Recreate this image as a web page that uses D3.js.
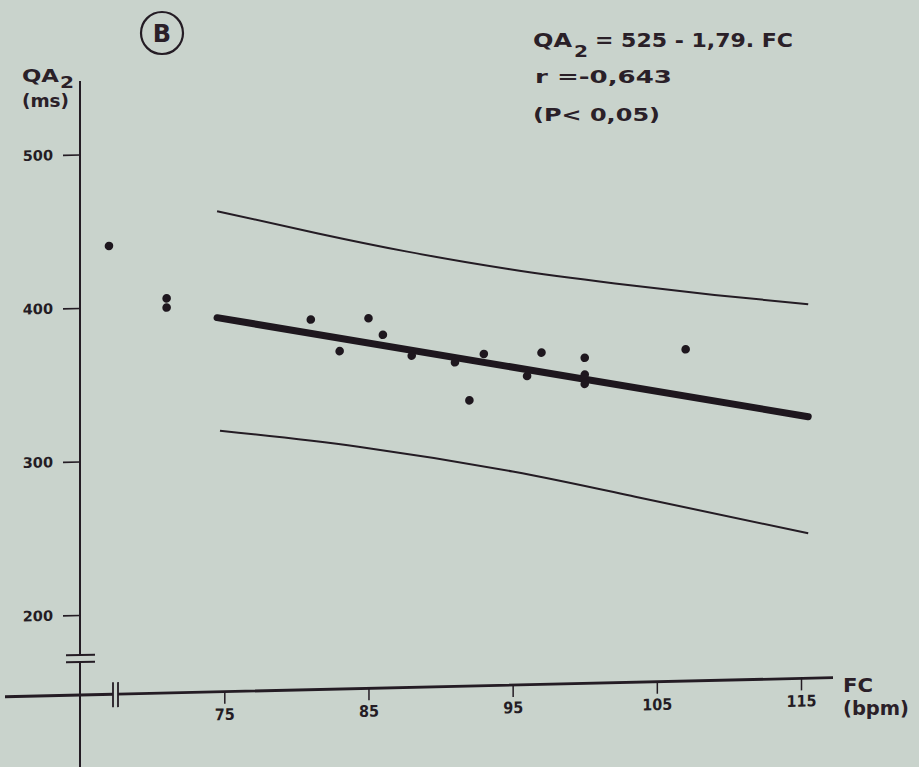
<!DOCTYPE html>
<html>
<head>
<meta charset="utf-8">
<script src="https://cdn.jsdelivr.net/npm/d3@7"></script>
<style>
  html, body { margin: 0; padding: 0; background: #c9d3cc; }
  svg { display: block; }
  .num { font-family: "DejaVu Sans", sans-serif; font-weight: 700; fill: #241c24; }
  .lab { font-family: "DejaVu Sans", sans-serif; font-weight: 700; fill: #2a2028; }
</style>
</head>
<body>
<div id="chart"></div>
<script>
// scatter: heart rate (FC, bpm) vs QA2 (ms)
const fcValues = [67, 71, 71, 81, 83, 85, 86, 88, 91, 92, 93, 96, 97, 100, 100, 100, 107];
const qaValues = [440, 405, 399, 389, 368, 389, 378, 364, 359, 334, 364, 349, 364, 360, 349, 343, 364];

// regression QA2 = 525 - 1,79 . FC, drawn over this FC span
const regIntercept = 525;
const regSlope = -1.79;
const regFc = [74.5, 115.5];

// confidence band lines
const upperFc = [74.5, 81.5, 87.6, 94.7, 102.1, 109, 115.5];
const upperQa = [461, 445, 432, 419, 408, 399, 391.5];
const lowerFc = [74.7, 84.3, 95, 103.5, 115.5];
const lowerQa = [318, 305.5, 287, 268.7, 242.3];

const xTicks = [75, 85, 95, 105, 115];
const yTicks = [200, 300, 400, 500];

const width = 919;
const height = 767;
const ink = '#241c24';

// the photographed page is slightly sheared: horizontals rise to the right
const axisX = 80;
const axisY = 695;
const shear = -1.32;

const x = d3.scaleLinear().domain([75, 115]).range([224.3, 801]);
const y = d3.scaleLinear().domain([200, 500]).range([615, 154.5]);

const svg = d3.select('#chart')
	.append('svg')
	.attr('width', width)
	.attr('height', height);

const plot = svg.append('g')
	.attr('transform', `translate(${axisX},0) skewY(${shear}) translate(${-axisX},0)`);

// y axis with break
plot.append('path')
	.attr('d', `M${axisX},81V655M${axisX},662V${height}`)
	.attr('stroke', ink)
	.attr('stroke-width', 2)
	.attr('fill', 'none');

plot.append('path')
	.attr('d', 'M66,655H95M66,662H95')
	.attr('stroke', ink)
	.attr('stroke-width', 2);

const yAxis = plot.append('g')
	.attr('transform', `translate(${axisX},0)`)
	.call(d3.axisLeft(y).tickValues(yTicks).tickSize(17).tickPadding(10));

yAxis.select('.domain').remove();
yAxis.selectAll('line').attr('stroke', ink).attr('stroke-width', 1.6);
yAxis.selectAll('text')
	.attr('class', 'num')
	.style('font-size', '14.5px');

// x axis with break
plot.append('path')
	.attr('d', `M5,${axisY}H113M118,${axisY}H833`)
	.attr('stroke', ink)
	.attr('stroke-width', 2.8)
	.attr('fill', 'none');

plot.append('path')
	.attr('d', `M113,${axisY - 12}V${axisY + 13}M118,${axisY - 12}V${axisY + 13}`)
	.attr('stroke', ink)
	.attr('stroke-width', 1.8);

const xAxis = plot.append('g')
	.attr('transform', `translate(0,${axisY})`)
	.call(d3.axisBottom(x).tickValues(xTicks).tickSize(12).tickPadding(5));

xAxis.select('.domain').remove();
xAxis.selectAll('line').attr('stroke', ink).attr('stroke-width', 1.5);
xAxis.selectAll('text')
	.attr('class', 'num')
	.style('font-size', '16px')
	.style('font-weight', 600)
	.style('font-stretch', 'condensed');

// band lines
const line = d3.line()
	.x(d => x(d[0]))
	.y(d => y(d[1]))
	.curve(d3.curveNatural);

plot.append('path')
	.datum(upperFc.map((f, i) => [f, upperQa[i]]))
	.attr('d', line)
	.attr('fill', 'none')
	.attr('stroke', ink)
	.attr('stroke-width', 2);

plot.append('path')
	.datum(lowerFc.map((f, i) => [f, lowerQa[i]]))
	.attr('d', line)
	.attr('fill', 'none')
	.attr('stroke', ink)
	.attr('stroke-width', 2);

// regression line
plot.append('path')
	.datum(regFc.map(f => [f, regIntercept + regSlope * f]))
	.attr('d', d3.line().x(d => x(d[0])).y(d => y(d[1])))
	.attr('fill', 'none')
	.attr('stroke', '#1e171e')
	.attr('stroke-width', 7)
	.attr('stroke-linecap', 'round');

// points
plot.append('g')
	.selectAll('circle')
	.data(fcValues.map((f, i) => [f, qaValues[i]]))
	.enter()
	.append('circle')
	.attr('cx', d => x(d[0]))
	.attr('cy', d => y(d[1]))
	.attr('r', 4.3)
	.attr('fill', '#1e171e');

// wide lettering: stretch glyphs to the measured width
const label = (tx, ty, size, len, str, weight) => svg.append('text')
	.attr('class', 'lab')
	.attr('x', tx)
	.attr('y', ty)
	.attr('textLength', len)
	.attr('lengthAdjust', 'spacingAndGlyphs')
	.style('font-size', size + 'px')
	.style('font-weight', weight || 700)
	.text(str);

// axis titles
label(22, 82, 17, 37, 'QA');
label(60, 88, 16, 14, '2');
label(22, 107, 17, 47, '(ms)', 600);
label(843, 692, 19, 30, 'FC');
label(843, 715, 19, 66, '(bpm)', 600);

// panel letter
svg.append('circle')
	.attr('cx', 162)
	.attr('cy', 33)
	.attr('r', 21)
	.attr('fill', 'none')
	.attr('stroke', ink)
	.attr('stroke-width', 2.2);

svg.append('text')
	.attr('class', 'lab')
	.attr('x', 162)
	.attr('y', 42)
	.attr('text-anchor', 'middle')
	.style('font-size', '24px')
	.text('B');

// equation block
label(533, 47, 19, 39, 'QA');
label(574, 57, 16, 14, '2');
label(595, 47, 19, 198, '= 525 - 1,79. FC');
label(535, 83, 18, 137, 'r =-0,643');
label(533, 121, 18, 127, '(P< 0,05)', 600);
</script>
</body>
</html>
